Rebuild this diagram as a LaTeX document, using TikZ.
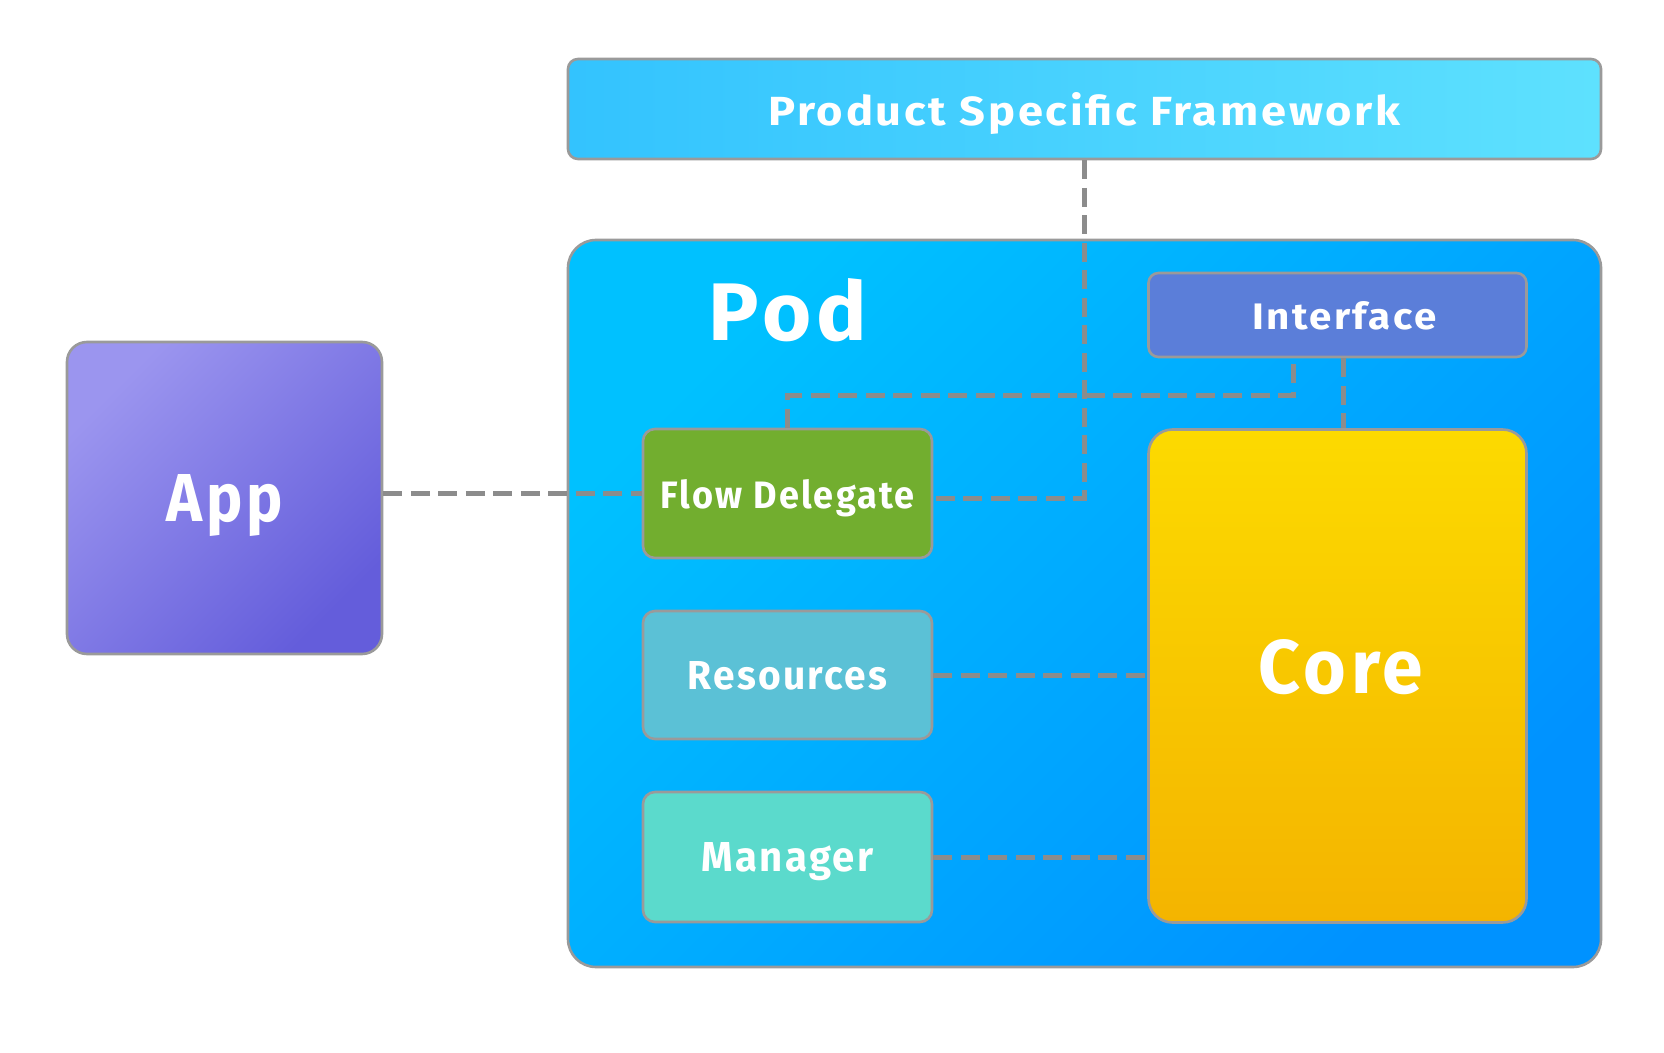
\documentclass[tikz,border=0pt]{standalone}
\usepackage{fontspec}
\usepackage{graphicx}
\setmainfont{Fira Sans}
\newfontfamily\labfont[LetterSpace=6]{Fira Sans}
\newcommand{\lab}[3]{\resizebox{#1}{#2}{\labfont\bfseries #3}}
\definecolor{psfL}{HTML}{33C3FE}
\definecolor{psfR}{HTML}{5EE1FE}
\definecolor{podA}{HTML}{00C1FF}
\definecolor{podB}{HTML}{0092FF}
\definecolor{appA}{HTML}{9B95EF}
\definecolor{appB}{HTML}{645DDB}
\definecolor{ifc}{HTML}{5B7ED9}
\definecolor{fdc}{HTML}{72AE2F}
\definecolor{resc}{HTML}{5BC1D6}
\definecolor{mgrc}{HTML}{5BDACC}
\definecolor{coreA}{HTML}{FCDA00}
\definecolor{coreB}{HTML}{F4B400}
\definecolor{bord}{HTML}{9A9A9A}
\definecolor{lnc}{HTML}{8C8C8C}
\begin{document}
\begin{tikzpicture}[x=0.5pt,y=-0.5pt,
  box/.style={draw=bord, line width=1.3pt, inner sep=0pt, text=white, text depth=0pt},
  lbl/.style={text=white, inner sep=0pt, text depth=0pt},
  conn/.style={draw=lnc, line width=2.5pt, dash pattern=on 9.5pt off 4.25pt}]
\fill[white] (0,0) rectangle (1664,1053);
\useasboundingbox (0,0) rectangle (1664,1053);
% containers
\node[box, rounded corners=14pt, minimum width=516.5pt, minimum height=363.5pt,
  top color=podA, bottom color=podB, shading angle=45] (pod) at (1084.5,603.5) {};
\node[lbl] (podtext) at (788,310) {\lab{79pt}{31pt}{Pod}};
\node[box, rounded corners=5pt, minimum width=516.5pt, minimum height=50pt,
  left color=psfL, right color=psfR] (psf) at (1084.5,109) {\lab{316pt}{16.5pt}{Product Specific Framework}};
\node[box, rounded corners=10pt, minimum width=157.5pt, minimum height=156pt,
  top color=appA, bottom color=appB, shading angle=45] (app) at (224.5,498) {\lab{58pt}{23.5pt}{App}};
% inner boxes
\node[box, rounded corners=5pt, minimum width=189pt, minimum height=42pt, fill=ifc] (iface) at (1337.5,315) {};
\node[lbl] (ifacetext) at (1344.5,316) {\lab{92pt}{14pt}{Interface}};
\node[box, rounded corners=12pt, minimum width=189pt, minimum height=246.5pt,
  top color=coreA, bottom color=coreB] (core) at (1337.5,676) {};
\node[lbl] (coretext) at (1341,666) {\lab{82pt}{27pt}{Core}};
\node[box, rounded corners=6pt, minimum width=144.5pt, minimum height=64.5pt, fill=fdc] (fd) at (787.5,493.5) {\lab{127pt}{14.5pt}{Flow Delegate}};
\node[box, rounded corners=6pt, minimum width=144.5pt, minimum height=64pt, fill=resc] (res) at (787.5,675) {\lab{100pt}{14pt}{Resources}};
\node[box, rounded corners=6pt, minimum width=144.5pt, minimum height=65pt, fill=mgrc] (mgr) at (787.5,857) {\lab{86pt}{14.5pt}{Manager}};
% connector helpers
\coordinate (ifl) at ([xshift=-22.25pt]iface.south);
\coordinate (ifr) at ([xshift=2.75pt]iface.south);
\coordinate (mid) at (0,396);
\coordinate (fdr) at ([yshift=-2.25pt]fd.east);
% connectors
\draw[conn] (app.east |- fd.west) -- (fd.west);
\draw[conn] (psf.south) |- (fdr);
\draw[conn] (fd.north) -- (fd.north |- mid) -| (ifl);
\draw[conn] (ifr) -- (ifr |- core.north);
\draw[conn] (res.east) -- (res.east -| core.west);
\draw[conn] (mgr.east) -- (mgr.east -| core.west);
\end{tikzpicture}
\end{document}
